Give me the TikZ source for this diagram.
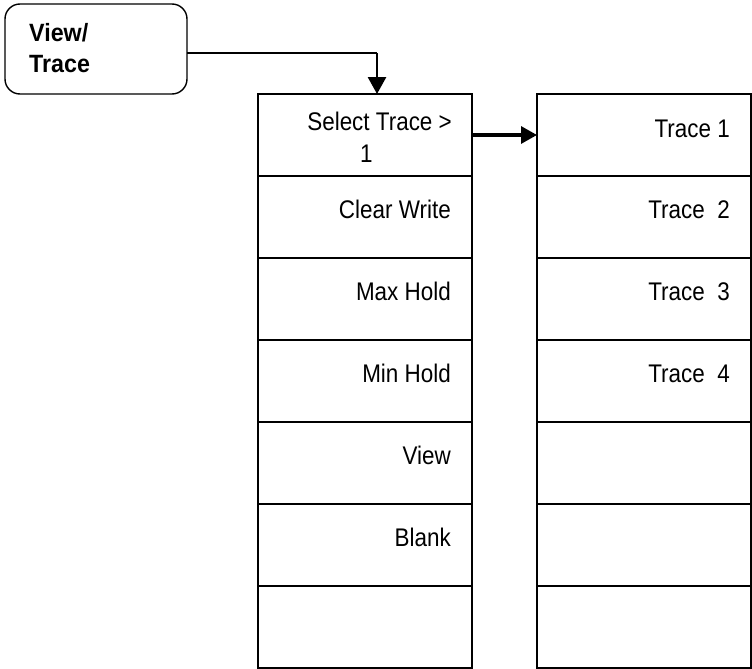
\documentclass[tikz,border=0pt]{standalone}
\usepackage{fontspec}
\setmainfont{Liberation Sans}[FakeStretch=0.88]
\newfontfamily\keyfont{Liberation Sans}[FakeStretch=0.93]
\usetikzlibrary{arrows.meta,calc}
\begin{document}
\begin{tikzpicture}[x=1pt,y=-1pt,
  cell/.style={draw, line width=1.5pt, minimum width=214pt, minimum height=82pt, inner sep=0pt, outer sep=0pt, anchor=north west},
  celltext/.style={anchor=base east, inner sep=0pt, font=\fontsize{25.5}{32}\selectfont},
  celltextl/.style={anchor=base west, inner sep=0pt, font=\fontsize{25.5}{32}\selectfont},
  keytext/.style={anchor=base west, inner sep=0pt, font=\keyfont\fontsize{25}{32}\selectfont\bfseries},
  keybox/.style={draw, rounded corners=15pt, line width=1.4pt, minimum width=182pt, minimum height=90pt, inner sep=0pt, outer sep=0pt, anchor=north west}
]
\useasboundingbox (0,0) rectangle (752,669);

% hard key
\node[keybox] (vt) at (5,4) {};
\node[keytext] (vt1) at (29,42) {View/};
\node[keytext] (vt2) at (29,72) {Trace};

% columns
\foreach \i in {1,...,7} {
  \node[cell] (L\i) at (258,{94+82*(\i-1)}) {};
  \node[cell] (R\i) at (537,{94+82*(\i-1)}) {};
}

% left column texts
\node[celltext] (t1a) at ($(L1.north east)+(-20,36)$) {Select Trace >};
\node[celltextl] (t1b) at ($(L1.north east)+(-112,68)$) {1};
\node[celltext] (t2) at ($(L2.north east)+(-21,42)$) {Clear Write};
\node[celltext] (t3) at ($(L3.north east)+(-21,42)$) {Max Hold};
\node[celltext] (t4) at ($(L4.north east)+(-21,42)$) {Min Hold};
\node[celltext] (t5) at ($(L5.north east)+(-21,42)$) {View};
\node[celltext] (t6) at ($(L6.north east)+(-21,42)$) {Blank};

% right column texts
\node[celltext] (r1) at ($(R1.north east)+(-21,43)$) {Trace 1};
\node[celltext] (r2) at ($(R2.north east)+(-21,42)$) {Trace~~2};
\node[celltext] (r3) at ($(R3.north east)+(-21,42)$) {Trace~~3};
\node[celltext] (r4) at ($(R4.north east)+(-21,42)$) {Trace~~4};

% connectors
\coordinate (c1) at (377,53);
\draw[line width=1.3pt] (vt.east |- c1) -- (c1);
\draw[line width=2.8pt, -{Triangle[length=17pt,width=18pt]}] (c1) -- (c1 |- L1.north);
\draw[line width=3.2pt, -{Triangle[length=16pt,width=17pt]}] (L1.east) -- (R1.west);
\end{tikzpicture}
\end{document}
